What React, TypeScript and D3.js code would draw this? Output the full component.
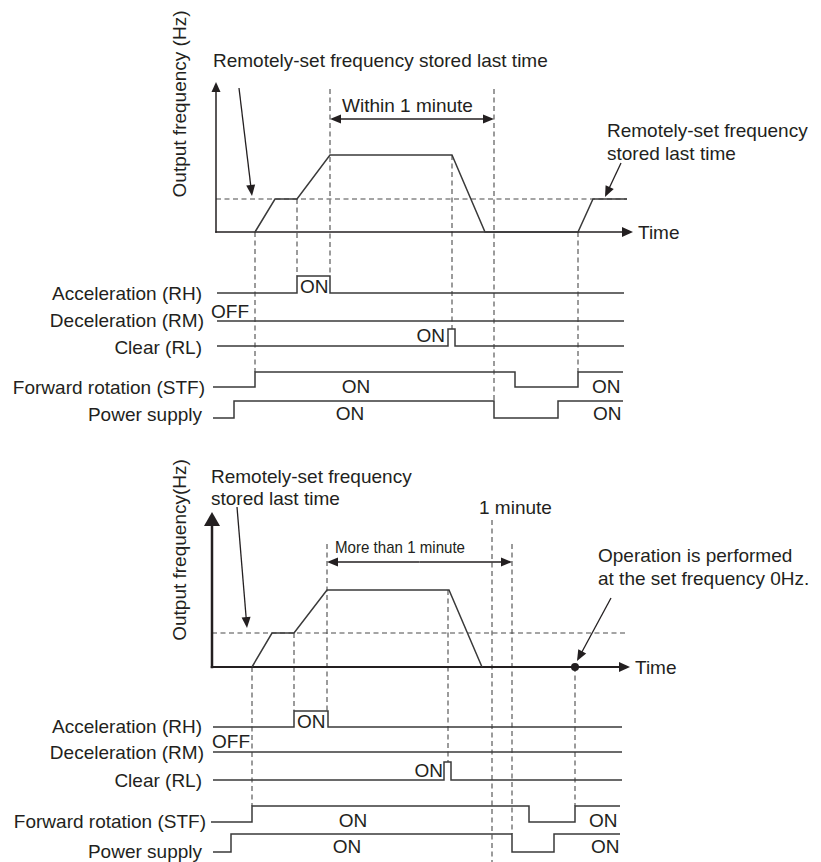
import React, { useRef, useEffect } from 'react';
import * as d3 from 'd3';

const W = 821;
const H = 862;
const FONT = '"Liberation Sans", Arial, Helvetica, sans-serif';
const INK = '#231f20';
const LINE = '#3a3a3a';
const DASH = '#4a4a4a';

const SIGNALS = ['Acceleration (RH)', 'Deceleration (RM)', 'Clear (RL)', 'Forward rotation (STF)', 'Power supply'];

// ---- upper chart (time in units from the frequency axis) ----
// frequency level: 0 = stopped, 1 = remotely-set frequency stored last time, 2 = accelerated
const TOP_FREQ_T = [39, 59, 81, 114, 236, 269, 362, 377, 411];
const TOP_FREQ_LEVEL = [0, 1, 1, 2, 2, 0, 0, 1, 1];
// each signal: [start, ...switching times, end], starts OFF
const TOP_SIGNAL_T = [
  [1, 81, 114, 408],
  [1, 408],
  [1, 232, 239, 408],
  [-3, 39, 299, 362, 407],
  [-3, 18, 278, 342, 407],
];
const TOP_GUIDE_T = [39, 81, 114, 236, 278, 362];
const TOP_GUIDE_FROM = ['stop', 'stored', 'span', 'high', 'span', 'stop'];
const TOP_GUIDE_TO: (number | 'bottom')[] = [3, 0, 0, 2, 4, 3];
const TOP_SPAN = [114, 278];

// ---- lower chart ----
const BOT_FREQ_T = [40, 60, 82, 115, 237, 270];
const BOT_FREQ_LEVEL = [0, 1, 1, 2, 2, 0];
const BOT_SIGNAL_T = [
  [1, 82, 116, 410],
  [1, 410],
  [1, 232, 239, 410],
  [-1, 40, 317, 363, 408],
  [1, 19, 300, 342, 408],
];
const BOT_GUIDE_T = [40, 82, 115, 236, 280, 300, 363];
const BOT_GUIDE_FROM = ['stop', 'stored', 'span', 'high', 'minute', 'span', 'stop'];
const BOT_GUIDE_TO: (number | 'bottom')[] = [3, 0, 0, 2, 'bottom', 4, 3];
const BOT_SPAN = [115, 300];
const BOT_DOT_T = 363;

type Txt = { text: string; x: number; y: number; anchor?: string; size?: number; len?: number };

interface PanelCfg {
  x0: number;
  levelsY: number[];
  axisTip: number; axisHead: number; axisHw: number; axisW: number;
  timeTip: number; refEnd: number;
  freqT: number[]; freqLevel: number[];
  signalT: number[][];
  rowY: number[]; rowH: number[]; labelY: number[]; labelX: number[];
  guideT: number[]; guideFrom: string[]; guideTo: (number | 'bottom')[];
  spanTop: number; minuteTop?: number;
  span: number[]; spanY: number;
  states: { text: string; t: number; y: number; anchor: string }[];
  notes: Txt[];
  yLabel: string; yLabelPos: [number, number];
  pointers: number[][];
  dotT?: number;
}

const TOP: PanelCfg = {
  x0: 216,
  levelsY: [232, 199, 155],
  axisTip: 82, axisHead: 10, axisHw: 4.5, axisW: 1.5,
  timeTip: 417, refEnd: 411,
  freqT: TOP_FREQ_T, freqLevel: TOP_FREQ_LEVEL,
  signalT: TOP_SIGNAL_T,
  rowY: [293, 321, 346, 387, 418], rowH: [17, 17, 17, 15, 17],
  labelY: [300, 327, 354, 394, 421], labelX: [202, 204, 202, 205, 202],
  guideT: TOP_GUIDE_T, guideFrom: TOP_GUIDE_FROM, guideTo: TOP_GUIDE_TO,
  spanTop: 89,
  span: TOP_SPAN, spanY: 119,
  states: [
    { text: 'ON', t: 84, y: 293, anchor: 'start' },
    { text: 'OFF', t: -5, y: 318, anchor: 'start' },
    { text: 'ON', t: 229, y: 342, anchor: 'end' },
    { text: 'ON', t: 140, y: 393, anchor: 'middle' },
    { text: 'ON', t: 376, y: 393, anchor: 'start' },
    { text: 'ON', t: 134, y: 420, anchor: 'middle' },
    { text: 'ON', t: 377, y: 420, anchor: 'start' },
  ],
  notes: [
    { text: 'Remotely-set frequency stored last time', x: 213, y: 67 },
    { text: 'Within 1 minute', x: 342, y: 112 },
    { text: 'Remotely-set frequency', x: 607, y: 137 },
    { text: 'stored last time', x: 607, y: 160 },
  ],
  yLabel: 'Output frequency (Hz)', yLabelPos: [186, 104],
  pointers: [[239, 88, 252, 196], [621, 163, 605, 197]],
};

const BOT: PanelCfg = {
  x0: 212,
  levelsY: [667, 633, 590],
  axisTip: 512, axisHead: 14, axisHw: 8, axisW: 2.5,
  timeTip: 418, refEnd: 413,
  freqT: BOT_FREQ_T, freqLevel: BOT_FREQ_LEVEL,
  signalT: BOT_SIGNAL_T,
  rowY: [727, 752, 780, 822, 852], rowH: [16, 16, 18, 16, 18],
  labelY: [733, 759, 787, 828, 858], labelX: [202, 204, 202, 206, 202],
  guideT: BOT_GUIDE_T, guideFrom: BOT_GUIDE_FROM, guideTo: BOT_GUIDE_TO,
  spanTop: 544, minuteTop: 520,
  span: BOT_SPAN, spanY: 562,
  states: [
    { text: 'ON', t: 85, y: 728, anchor: 'start' },
    { text: 'OFF', t: 0, y: 748, anchor: 'start' },
    { text: 'ON', t: 231, y: 777, anchor: 'end' },
    { text: 'ON', t: 141, y: 827, anchor: 'middle' },
    { text: 'ON', t: 377, y: 827, anchor: 'start' },
    { text: 'ON', t: 135, y: 853, anchor: 'middle' },
    { text: 'ON', t: 379, y: 853, anchor: 'start' },
  ],
  notes: [
    { text: 'Remotely-set frequency', x: 211, y: 483 },
    { text: 'stored last time', x: 211, y: 505 },
    { text: '1 minute', x: 479, y: 514 },
    { text: 'More than 1 minute', x: 335, y: 553, size: 17, len: 130 },
    { text: 'Operation is performed', x: 598, y: 562 },
    { text: 'at the set frequency 0Hz.', x: 598, y: 585 },
  ],
  yLabel: 'Output frequency(Hz)', yLabelPos: [186, 550],
  pointers: [[237, 507, 247, 628], [611, 598, 577, 661]],
  dotT: BOT_DOT_T,
};

type Sel = d3.Selection<SVGGElement, unknown, null, undefined>;

function arrow(g: Sel, x1: number, y1: number, x2: number, y2: number, len = 10, hw = 4, w = 1.3) {
  const a = Math.atan2(y2 - y1, x2 - x1);
  const bx = x2 - len * Math.cos(a);
  const by = y2 - len * Math.sin(a);
  g.append('line').attr('x1', x1).attr('y1', y1).attr('x2', bx + Math.cos(a)).attr('y2', by + Math.sin(a))
    .attr('stroke', INK).attr('stroke-width', w);
  const sx = hw * Math.sin(a), sy = hw * Math.cos(a);
  g.append('path')
    .attr('d', `M${x2},${y2}L${bx + sx},${by - sy}L${bx - sx},${by + sy}Z`)
    .attr('fill', INK);
}

function drawPanel(svg: d3.Selection<SVGSVGElement, unknown, null, undefined>, p: PanelCfg) {
  const g = svg.append('g') as unknown as Sel;
  const x = d3.scaleLinear().domain([0, 420]).range([p.x0, p.x0 + 420]);
  const fy = d3.scaleLinear().domain([0, 1, 2]).range(p.levelsY);

  // stored-frequency reference
  g.append('line').attr('x1', x(0)).attr('x2', x(p.refEnd)).attr('y1', fy(1)).attr('y2', fy(1))
    .attr('stroke', DASH).attr('stroke-width', 1.1).attr('stroke-dasharray', '5,3.5');

  // guides
  const fromY = (k: string) =>
    k === 'stop' ? fy(0) : k === 'stored' ? fy(1) : k === 'high' ? fy(2) : k === 'minute' ? (p.minuteTop as number) : p.spanTop;
  p.guideT.forEach((t, i) => {
    const to = p.guideTo[i];
    const y2 = to === 'bottom' ? H : p.rowY[to] - p.rowH[to];
    g.append('line').attr('x1', x(t)).attr('x2', x(t)).attr('y1', fromY(p.guideFrom[i])).attr('y2', y2)
      .attr('stroke', DASH).attr('stroke-width', 1.1).attr('stroke-dasharray', '5,3.5');
  });

  // axes
  arrow(g, x(0), fy(0) + p.axisW / 2, x(0), p.axisTip, p.axisHead, p.axisHw, p.axisW);
  arrow(g, x(0) - p.axisW / 2, fy(0), x(p.timeTip), fy(0), 11, 5, p.axisW === 1.5 ? 1.5 : 1.8);
  g.append('text').attr('x', x(p.timeTip) + 5).attr('y', fy(0) + 7).text('Time');

  // output frequency
  const line = d3.line<number>().x((t) => x(t)).y((_, i) => fy(p.freqLevel[i]));
  g.append('path').attr('d', line(p.freqT)).attr('fill', 'none').attr('stroke', LINE).attr('stroke-width', 1.5);
  if (p.dotT !== undefined) {
    g.append('circle').attr('cx', x(p.dotT)).attr('cy', fy(0)).attr('r', 4).attr('fill', INK);
  }

  // signals
  p.signalT.forEach((ts, i) => {
    const sy = d3.scaleLinear().domain([0, 1]).range([p.rowY[i], p.rowY[i] - p.rowH[i]]);
    let lvl = 0;
    const pts: [number, number][] = [[x(ts[0]), sy(0)]];
    ts.slice(1, -1).forEach((t) => {
      pts.push([x(t), sy(lvl)]);
      lvl = 1 - lvl;
      pts.push([x(t), sy(lvl)]);
    });
    pts.push([x(ts[ts.length - 1]), sy(lvl)]);
    g.append('path').attr('d', d3.line()(pts)).attr('fill', 'none').attr('stroke', LINE).attr('stroke-width', 1.5);
    g.append('text').attr('x', p.labelX[i]).attr('y', p.labelY[i]).attr('text-anchor', 'end').text(SIGNALS[i]);
  });

  p.states.forEach((s) => {
    g.append('text').attr('x', x(s.t)).attr('y', s.y).attr('text-anchor', s.anchor).text(s.text);
  });

  // span arrow
  const [a0, a1] = p.span;
  const mid = (x(a0) + x(a1)) / 2;
  arrow(g, mid, p.spanY, x(a0), p.spanY, 11, 4.5, 1.3);
  arrow(g, mid, p.spanY, x(a1), p.spanY, 11, 4.5, 1.3);

  p.notes.forEach((n) => {
    const t = g.append('text').attr('x', n.x).attr('y', n.y).text(n.text);
    if (n.size) t.style('font-size', `${n.size}px`);
    if (n.len) t.attr('textLength', n.len).attr('lengthAdjust', 'spacingAndGlyphs');
  });
  p.pointers.forEach(([x1, y1, x2, y2]) => arrow(g, x1, y1, x2, y2, 11, 4.5, 1.3));

  g.append('text')
    .attr('transform', `translate(${p.yLabelPos[0]},${p.yLabelPos[1]}) rotate(-90)`)
    .attr('text-anchor', 'middle')
    .text(p.yLabel);
}

export default function App() {
  const ref = useRef<SVGSVGElement>(null);

  useEffect(() => {
    if (!ref.current) return;
    const svg = d3.select(ref.current);
    svg.selectAll('*').remove();
    svg.style('font-family', FONT).style('font-size', '19px').attr('fill', INK);
    drawPanel(svg, TOP);
    drawPanel(svg, BOT);
  }, []);

  return (
    <div style={{ position: 'absolute', left: 0, top: 0 }}>
      <svg ref={ref} width={W} height={H} style={{ display: 'block', background: '#fff' }} />
    </div>
  );
}
